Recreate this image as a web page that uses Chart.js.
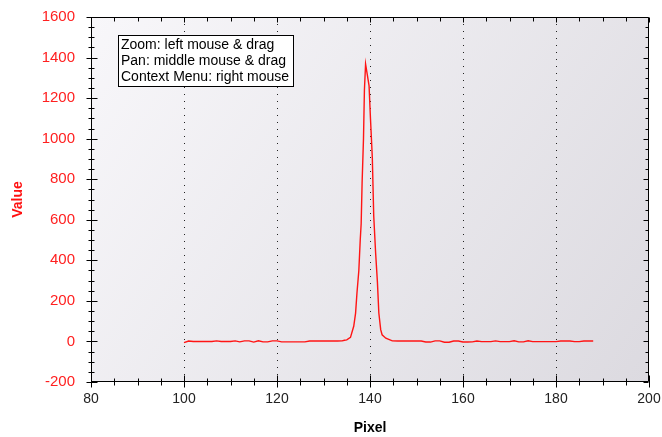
<!DOCTYPE html>
<html>
<head>
<meta charset="utf-8">
<script src="https://cdn.jsdelivr.net/npm/chart.js@4/dist/chart.umd.min.js"></script>
<style>
  body { margin: 0; background: #fff; }
</style>
</head>
<body>
<canvas id="myChart" width="662" height="437"></canvas>
<script>
// valeurs
const pixels = [100, 101, 102, 103, 104, 105, 106, 107, 108, 109, 110, 111, 112, 113, 114, 115, 116, 117, 118, 119,
  120, 121, 122, 123, 124, 125, 126, 127, 128, 129, 130, 131, 132, 133, 134, 134.5, 135, 135.8, 136.5, 136.9,
  137.2, 137.6, 137.9, 138.1, 138.3, 138.6, 138.8, 139.05, 139.4, 139.8, 140.1, 140.5, 140.8, 141.2, 141.6, 141.9,
  142.3, 142.6, 143.4, 144.8, 146, 147, 148, 149, 150, 151, 152, 153, 154, 155, 156, 157, 158, 159, 160, 161, 162,
  163, 164, 165, 166, 167, 168, 169, 170, 171, 172, 173, 174, 175, 176, 177, 178, 179, 180, 181, 182, 183, 184,
  185, 186, 187, 188];
const values = [-6, 2, 0, 0, 0, 0, 0, 3, 0, 0, 0, 3, -2, 3, 3, -3, 3, -2, -2, 3,
  3, -2, -2, -2, -2, -2, -2, 2, 2, 2, 2, 2, 2, 2, 3, 6, 8, 20, 75, 140,
  240, 350, 500, 580, 780, 1000, 1240, 1368, 1318, 1260, 1100, 905, 620, 440, 290, 140,
  58, 33, 16, 3, 2, 2, 2, 2, 2, 2, -3, -3, 3, 3, -4, -4, 2, 2, -3, -3, -2,
  2, -1, -1, -1, 3, -1, -1, -1, 3, -2, -2, 3, -1, -1, -1, -1, -1, -1, 2, 2, 2, -1,
  -1, 2, 2, 2];

const xLabels = [80, 100, 120, 140, 160, 180, 200];
const yLabels = [-200, 0, 200, 400, 600, 800, 1000, 1200, 1400, 1600];
const helpLines = ['Zoom: left mouse & drag', 'Pan: middle mouse & drag', 'Context Menu: right mouse'];

const points = pixels.map((p, i) => ({ x: p, y: values[i] }));

// fond dégradé + axes + graduations + boite d'aide
const decor = {
  id: 'decor',
  beforeDraw(chart) {
    const { ctx, chartArea: a } = chart;
    const g = ctx.createLinearGradient(a.left, a.top, a.right, a.bottom);
    g.addColorStop(0, '#f8f7fa');
    g.addColorStop(1, '#dcdae0');
    ctx.save();
    ctx.fillStyle = g;
    ctx.fillRect(a.left, a.top, a.right - a.left, a.bottom - a.top);
    ctx.restore();
  },
  afterDraw(chart) {
    const { ctx, chartArea: a } = chart;
    const xs = chart.scales.x, ys = chart.scales.y;
    const L = Math.round(a.left) + 0.5, R = Math.round(a.right) - 0.5;
    const T = Math.round(a.top) + 0.5, B = Math.round(a.bottom) - 0.5;
    ctx.save();
    ctx.strokeStyle = '#000';
    ctx.lineWidth = 1;
    ctx.beginPath();
    ctx.rect(L, T, R - L, B - T);
    // graduations verticales
    for (let v = -200; v <= 1600; v += 50) {
      const y = Math.round(ys.getPixelForValue(v)) + 0.5;
      const major = v % 200 === 0;
      ctx.moveTo(L - (major ? 5 : 3), y);
      ctx.lineTo(L + (major ? 6 : 3), y);
      ctx.moveTo(R, y);
      ctx.lineTo(R - (major ? 5 : 3), y);
    }
    // graduations horizontales
    for (let v = 80; v <= 200; v += 5) {
      const x = Math.round(xs.getPixelForValue(v)) + 0.5;
      const major = v % 20 === 0;
      ctx.moveTo(x, B - (major ? 6 : 3));
      ctx.lineTo(x, B + (major ? 6 : 4));
      ctx.moveTo(x, T);
      ctx.lineTo(x, T + (major ? 5 : 4));
    }
    ctx.stroke();

    // boite d'aide
    const bx = 118.5, by = 35.5, bw = 175, bh = 51;
    ctx.fillStyle = '#fff';
    ctx.fillRect(bx, by, bw, bh);
    ctx.strokeRect(bx, by, bw, bh);
    ctx.fillStyle = '#000';
    ctx.font = '14px "Liberation Sans", Arial, sans-serif';
    ctx.textBaseline = 'middle';
    helpLines.forEach((t, i) => ctx.fillText(t, bx + 2.5, by + 10 + i * 15.6));
    ctx.restore();
  }
};

const ctx = document.getElementById('myChart').getContext('2d');
const myChart = new Chart(ctx, {
  type: 'scatter',
  data: {
    datasets: [{
      data: points,
      showLine: true,
      borderColor: 'rgb(255, 20, 20)',
      borderWidth: 1.4,
      pointRadius: 0,
      tension: 0
    }]
  },
  options: {
    responsive: false,
    animation: false,
    layout: { padding: { top: 17, right: 13, left: 0, bottom: 0 } },
    plugins: { legend: { display: false }, tooltip: { enabled: false } },
    scales: {
      x: {
        type: 'linear',
        min: 80,
        max: 200,
        afterBuildTicks: s => { s.ticks = xLabels.map(v => ({ value: v })); },
        afterFit: s => { s.height = 55; s.paddingLeft = 0; s.paddingRight = 0; },
        ticks: {
          color: '#222',
          padding: 9,
          callback: v => String(v),
          font: { family: '"Liberation Sans", Arial, sans-serif', size: 14 }
        },
        grid: {
          drawTicks: false,
          color: c => (c.tick && c.tick.value > 80 && c.tick.value < 200) ? '#222' : 'rgba(0,0,0,0)',
          lineWidth: 1
        },
        border: { display: false, dash: [1, 6] },
        title: {
          display: true,
          text: 'Pixel',
          color: '#000',
          padding: { top: 0, bottom: 0 },
          font: { family: '"Liberation Sans", Arial, sans-serif', size: 14, weight: 'bold' }
        }
      },
      y: {
        min: -200,
        max: 1600,
        afterBuildTicks: s => { s.ticks = yLabels.map(v => ({ value: v })); },
        afterFit: s => { s.width = 91; s.paddingTop = 0; s.paddingBottom = 0; },
        ticks: {
          color: '#ff2020',
          padding: 16,
          callback: v => String(v),
          font: { family: '"Liberation Sans", Arial, sans-serif', size: 15 }
        },
        grid: { display: false, drawTicks: false },
        border: { display: false },
        title: {
          display: true,
          text: 'Value',
          color: '#ff1010',
          padding: { top: 10, bottom: 0 },
          font: { family: '"Liberation Sans", Arial, sans-serif', size: 14, weight: 'bold' }
        }
      }
    }
  },
  plugins: [decor]
});
</script>
</body>
</html>
